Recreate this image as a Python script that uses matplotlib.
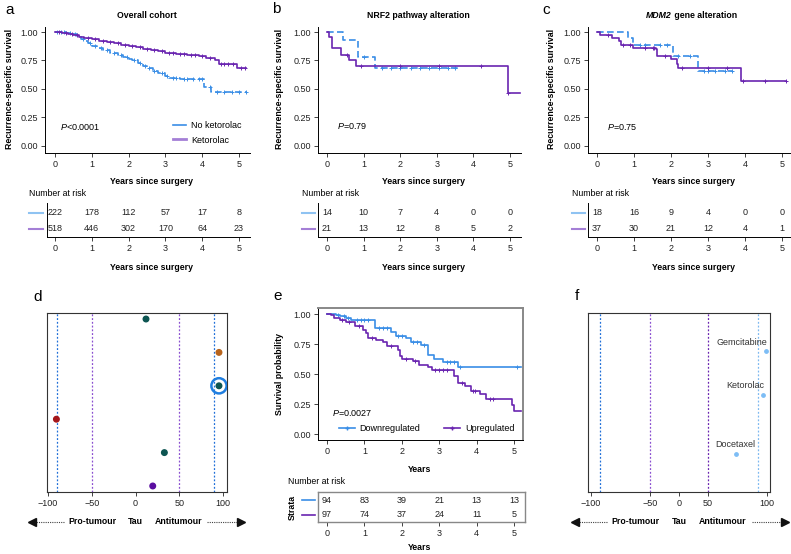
import numpy as np
import matplotlib.pyplot as plt
from matplotlib.lines import Line2D

plt.rcParams['font.family'] = ['Liberation Sans', 'DejaVu Sans']
plt.rcParams['mathtext.fontset'] = 'custom'
plt.rcParams['mathtext.it'] = 'Liberation Sans:italic'
plt.rcParams['mathtext.rm'] = 'Liberation Sans'
plt.rcParams['font.size'] = 6.3

W, H = 791, 554
FS = 6.3
BLUE = '#3a8ee6'
PURPLE = '#6a25b0'
BLUE_L = '#8fc3f2'
PURPLE_L = '#a47fd6'

# ---- a: overall cohort
a_no_t = [0, 0.3, 0.45, 0.6, 0.7, 0.8, 0.9, 1.0, 1.15, 1.3, 1.5, 1.7, 1.85, 2.0, 2.1, 2.25,
          2.4, 2.5, 2.65, 2.8, 3.0, 3.1, 3.4, 4.05, 4.25]
a_no_s = [1.0, 0.99, 0.98, 0.965, 0.94, 0.92, 0.9, 0.875, 0.86, 0.845, 0.82, 0.8, 0.78, 0.765,
          0.75, 0.73, 0.70, 0.68, 0.66, 0.64, 0.61, 0.60, 0.59, 0.52, 0.475]
a_no_cens = [0.05, 0.15, 0.25, 0.4, 0.55, 0.75, 0.95, 1.1, 1.25, 1.4, 1.6, 1.8, 1.95, 2.15,
             2.3, 2.45, 2.55, 2.7, 2.9, 3.05, 3.2, 3.3, 3.5, 3.6, 3.75, 3.9, 4.0, 4.2, 4.4,
             4.6, 4.8, 5.0, 5.2]
a_no_end = 5.22
a_ke_t = [0, 0.2, 0.35, 0.5, 0.65, 0.8, 1.0, 1.2, 1.4, 1.6, 1.8, 2.0, 2.2, 2.4, 2.6, 2.8, 3.0,
          3.3, 3.6, 3.9, 4.1, 4.35, 4.45, 4.95]
a_ke_s = [1.0, 0.99, 0.98, 0.97, 0.955, 0.945, 0.935, 0.925, 0.91, 0.9, 0.89, 0.875, 0.865,
          0.85, 0.84, 0.83, 0.815, 0.805, 0.80, 0.79, 0.77, 0.75, 0.715, 0.685]
a_ke_cens = [0.1, 0.3, 0.45, 0.6, 0.9, 1.1, 1.3, 1.5, 1.7, 1.9, 2.1, 2.3, 2.5, 2.7, 2.9, 3.1,
             3.2, 3.4, 3.5, 3.7, 3.8, 4.0, 4.2, 4.5, 4.6, 4.7, 4.85, 5.05, 5.15]
a_ke_end = 5.2
a_risk_no = [222, 178, 112, 57, 17, 8]
a_risk_ke = [518, 446, 302, 170, 64, 23]

# ---- b: NRF2 pathway alteration
b_ke_t = [0, 0.06, 0.14, 0.37, 0.6, 0.8, 4.95]
b_ke_s = [1.0, 0.952, 0.857, 0.80, 0.75, 0.70, 0.467]
b_ke_cens = [0.55, 0.92, 2.0, 3.05, 4.2, 4.95]
b_ke_end = 5.28
b_no_t = [0, 0.45, 0.85, 1.3]
b_no_s = [1.0, 0.929, 0.779, 0.688]
b_no_cens = [1.0, 1.5, 1.75, 2.0, 2.3, 2.55, 2.8, 3.05, 3.3, 3.5]
b_no_end = 3.65
b_risk_no = [14, 10, 7, 4, 0, 0]
b_risk_ke = [21, 13, 12, 8, 5, 2]

# ---- c: MDM2 gene alteration
c_ke_t = [0, 0.08, 0.4, 0.6, 0.65, 0.98, 1.6, 1.63, 2.0, 2.15, 2.2, 3.88]
c_ke_s = [1.0, 0.973, 0.946, 0.918, 0.889, 0.862, 0.85, 0.79, 0.76, 0.72, 0.68, 0.57]
c_ke_cens = [0.3, 0.7, 0.9, 1.3, 1.5, 1.55, 1.85, 2.3, 3.0, 3.5, 3.95, 4.55, 5.1]
c_ke_end = 5.1
c_no_t = [0, 0.85, 0.98, 2.05, 2.72]
c_no_s = [1.0, 0.944, 0.889, 0.79, 0.658]
c_no_cens = [1.15, 1.3, 1.7, 1.9, 2.2, 2.5, 2.9, 3.0, 3.2, 3.45, 3.65]
c_no_end = 3.65
c_risk_no = [18, 16, 9, 4, 0, 0]
c_risk_ke = [37, 30, 21, 12, 4, 1]

# ---- d: tau scores
d_tau = [12, 95.4, 95.4, -90.4, 33, 19.7]
d_colors = ['#0d5552', '#b8641c', '#0d5552', '#a4161a', '#0d5552', '#5a0ea0']
d_highlight = 2

# ---- e: up vs down
e_dn_t = [0, 0.25, 0.35, 0.5, 0.65, 1.29, 1.7, 1.85, 2.1, 2.25, 2.5, 2.7, 2.85, 3.1, 3.5]
e_dn_s = [1.0, 0.99, 0.98, 0.965, 0.953, 0.883, 0.85, 0.82, 0.80, 0.77, 0.74, 0.657, 0.627,
          0.596, 0.56]
e_dn_cens = [0.3, 0.45, 0.55, 0.8, 0.9, 1.0, 1.1, 1.4, 1.5, 1.6, 1.9, 2.0, 2.3, 2.4, 2.6,
             3.2, 3.3, 3.4, 3.55, 5.07]
e_dn_end = 5.2
e_up_t = [0, 0.1, 0.2, 0.35, 0.5, 0.75, 0.95, 1.05, 1.1, 1.3, 1.5, 1.6, 1.9, 1.95, 2.0, 2.3,
          2.45, 2.7, 2.8, 3.4, 3.5, 3.7, 3.85, 4.1, 4.25, 4.95, 5.0]
e_up_s = [1.0, 0.99, 0.97, 0.95, 0.93, 0.90, 0.87, 0.84, 0.80, 0.78, 0.77, 0.73, 0.70, 0.65,
          0.627, 0.61, 0.577, 0.56, 0.535, 0.485, 0.426, 0.396, 0.362, 0.33, 0.29, 0.242, 0.192]
e_up_cens = [0.4, 0.6, 0.85, 1.2, 1.7, 2.1, 2.35, 2.9, 3.0, 3.1, 3.2, 3.6, 3.9, 3.95, 4.35, 4.45]
e_up_end = 5.2
e_risk_dn = [94, 83, 39, 21, 13, 13]
e_risk_up = [97, 74, 37, 24, 11, 5]

# ---- f: drugs
f_drugs = ['Gemcitabine', 'Ketorolac', 'Docetaxel']
f_tau = [98.9, 96.6, 73.9]
f_y = [0.21, 0.46, 0.79]
f_label_off = [(-17, 6), (-13, 7), (-1, 7)]

years = [0, 1, 2, 3, 4, 5]

fig = plt.figure(figsize=(W / 100, H / 100), dpi=100)


def px_axes(l, t, r, b):
    return fig.add_axes([l / W, 1 - b / H, (r - l) / W, (b - t) / H])


def ftext(x, y, s, **kw):
    kw.setdefault('ha', 'center')
    kw.setdefault('va', 'center')
    kw.setdefault('fontsize', FS)
    fig.text(x / W, 1 - y / H, s, **kw)


def fline(x0, x1, y, **kw):
    fig.add_artist(Line2D([x0 / W, x1 / W], [1 - y / H] * 2, **kw))


def style_ticks(ax):
    ax.tick_params(length=3, width=0.6, labelsize=6.5, pad=2, colors='#222')


def km_axes(left, x0, x5, right, top, y1, y0, bottom):
    ax = px_axes(left, top, right, bottom)
    ppy = (x5 - x0) / 5
    ax.set_xlim((left - x0) / ppy, (right - x0) / ppy)
    ppu = y0 - y1
    ax.set_ylim((y0 - bottom) / ppu, (y0 - top) / ppu)
    ax.set_xticks(years)
    ax.set_yticks([0, 0.25, 0.5, 0.75, 1.0])
    ax.set_yticklabels(['0.00', '0.25', '0.50', '0.75', '1.00'])
    for sp in ['top', 'right']:
        ax.spines[sp].set_visible(False)
    for sp in ['left', 'bottom']:
        ax.spines[sp].set_linewidth(0.7)
    style_ticks(ax)
    return ax


def km_curve(ax, t, s, t_end, cens, color, ls='-'):
    tt = list(t) + [t_end]
    ss = list(s) + [s[-1]]
    ax.step(tt, ss, where='post', color=color, lw=1.2, ls=ls)
    idx = np.searchsorted(t, cens, side='right') - 1
    ax.plot(cens, np.array(s)[idx], ls='none', marker='+', ms=3.5, mew=0.7, color=color)


def risk_table(left, x0, x5, right, top, bottom, rows, boxed=False):
    ax = px_axes(left, top, right, bottom)
    ppy = (x5 - x0) / 5
    ax.set_xlim((left - x0) / ppy, (right - x0) / ppy)
    ax.set_ylim(0, 1)
    ax.set_xticks(years)
    ax.set_yticks([])
    for yy, counts in zip([0.72, 0.25], rows):
        for x, n in zip(years, counts):
            ax.text(x, yy, str(n), ha='center', va='center', fontsize=6.5, color='#222')
    if boxed:
        for sp in ax.spines.values():
            sp.set_color('#888')
            sp.set_linewidth(1.0)
    else:
        ax.spines['top'].set_visible(False)
        ax.spines['right'].set_visible(False)
        for sp in ['left', 'bottom']:
            ax.spines[sp].set_linewidth(0.7)
    style_ticks(ax)
    return ax


dash = (0, (4, 2))
p_it = r'$\it{P}$'

# ================= panel a
ax = km_axes(45, 55, 239, 250, 27, 32, 146, 153)
km_curve(ax, a_no_t, a_no_s, a_no_end, a_no_cens, BLUE, dash)
km_curve(ax, a_ke_t, a_ke_s, a_ke_end, a_ke_cens, PURPLE)
ax.legend([Line2D([], [], color=BLUE, lw=1.2), Line2D([], [], color=PURPLE_L, lw=2)],
          ['No ketorolac', 'Ketorolac'], loc='center left', bbox_to_anchor=(0.6, 0.16),
          frameon=False, handlelength=1.5, labelspacing=0.6, borderpad=0, handletextpad=0.6,
          fontsize=6.5)
ftext(5, 10, 'a', fontsize=11, ha='left')
ftext(147, 15, 'Overall cohort', fontweight='bold')
ftext(10, 89, 'Recurrence-specific survival', rotation=90, fontweight='bold')
ftext(60, 127, p_it + '<0.0001', ha='left', fontsize=6.5)
ftext(152, 182, 'Years since surgery', fontweight='bold')
ftext(29, 193, 'Number at risk', ha='left')
risk_table(47, 55, 239, 250, 203, 237, [a_risk_no, a_risk_ke])
ftext(152, 267, 'Years since surgery', fontweight='bold')
fline(29, 43, 213, color=BLUE_L, lw=1.5)
fline(29, 43, 229, color=PURPLE_L, lw=1.5)

# ================= panel b
ax = km_axes(318, 327, 510, 521, 27, 32, 146, 153)
km_curve(ax, b_no_t, b_no_s, b_no_end, b_no_cens, BLUE, dash)
km_curve(ax, b_ke_t, b_ke_s, b_ke_end, b_ke_cens, PURPLE)
ftext(272, 9, 'b', fontsize=11, ha='left')
ftext(418, 15, 'NRF2 pathway alteration', fontweight='bold')
ftext(280, 89, 'Recurrence-specific survival', rotation=90, fontweight='bold')
ftext(337, 126, p_it + '=0.79', ha='left', fontsize=6.5)
ftext(423, 182, 'Years since surgery', fontweight='bold')
ftext(302, 193, 'Number at risk', ha='left')
risk_table(318, 327, 510, 521, 203, 237, [b_risk_no, b_risk_ke])
ftext(423, 267, 'Years since surgery', fontweight='bold')
fline(302, 315, 213, color=BLUE_L, lw=1.5)
fline(302, 315, 229, color=PURPLE_L, lw=1.5)

# ================= panel c
ax = km_axes(588, 597, 782, 791, 27, 32, 146, 153)
km_curve(ax, c_no_t, c_no_s, c_no_end, c_no_cens, BLUE, dash)
km_curve(ax, c_ke_t, c_ke_s, c_ke_end, c_ke_cens, PURPLE)
ftext(542, 10, 'c', fontsize=11, ha='left')
ftext(672, 15, 'MDM2', fontweight='bold', fontstyle='italic', ha='right')
ftext(672, 15, ' gene alteration', fontweight='bold', ha='left')
ftext(552, 89, 'Recurrence-specific survival', rotation=90, fontweight='bold')
ftext(607, 127, p_it + '=0.75', ha='left', fontsize=6.5)
ftext(693, 182, 'Years since surgery', fontweight='bold')
ftext(572, 193, 'Number at risk', ha='left')
risk_table(588, 597, 782, 791, 203, 237, [c_risk_no, c_risk_ke])
ftext(693, 267, 'Years since surgery', fontweight='bold')
fline(572, 585, 213, color=BLUE_L, lw=1.5)
fline(572, 585, 229, color=PURPLE_L, lw=1.5)


def tau_arrows(xl0, xl1, x_pro, x_tau, x_anti, xr0, xr1, y):
    fline(xl0 + 5, xl1, y, color='#444', lw=0.8, ls=(0, (1, 1)))
    fline(xr0, xr1 - 5, y, color='#444', lw=0.8, ls=(0, (1, 1)))
    fig.add_artist(Line2D([(xl0 + 3) / W], [1 - y / H], marker='<', ms=5.5, color='#111', ls='none'))
    fig.add_artist(Line2D([(xr1 - 3) / W], [1 - y / H], marker='>', ms=5.5, color='#111', ls='none'))
    ftext(x_pro, y, 'Pro-tumour', fontweight='bold')
    ftext(x_tau, y, 'Tau', fontweight='bold')
    ftext(x_anti, y, 'Antitumour', fontweight='bold')


def frame_axes(ax):
    for sp in ax.spines.values():
        sp.set_color('#333')
        sp.set_linewidth(0.8)
    ax.set_yticks([])
    style_ticks(ax)


# ================= panel d
ax = px_axes(47, 313, 227, 492)
ax.set_xlim((47 - 48) / 0.875 - 100, (227 - 48) / 0.875 - 100)
ypos = np.arange(1, len(d_tau) + 1)
ax.set_ylim(len(d_tau) + 0.18, 0.82)
for xv, c in [(-90, '#1f6fd8'), (-50, '#8a4fd0'), (50, '#8a4fd0'), (90, '#1f6fd8')]:
    ax.axvline(xv, color=c, lw=0.9, ls=(0, (1.5, 1.5)))
ax.scatter(d_tau, ypos, s=16, c=d_colors, zorder=3)
ax.scatter([d_tau[d_highlight]], [ypos[d_highlight]], s=120, facecolors='none',
           edgecolors='#1f7ee0', linewidths=1.8, zorder=4)
ax.set_xticks([-100, -50, 0, 50, 100])
frame_axes(ax)
ftext(33, 297, 'd', fontsize=11, ha='left')
tau_arrows(29, 64, 92, 135, 179, 207, 244, 522)

# ================= panel e
ax = km_axes(318, 327, 514, 523, 308, 314, 434, 440)
km_curve(ax, e_dn_t, e_dn_s, e_dn_end, e_dn_cens, BLUE)
km_curve(ax, e_up_t, e_up_s, e_up_end, e_up_cens, PURPLE)
for sp in ['top', 'right']:
    ax.spines[sp].set_visible(True)
    ax.spines[sp].set_color('#888')
    ax.spines[sp].set_linewidth(1.4)
ax.legend([Line2D([], [], color=BLUE, lw=1.2, marker='+', ms=3.5),
           Line2D([], [], color=PURPLE, lw=1.2, marker='+', ms=3.5)],
          ['Downregulated', 'Upregulated'], loc='center left', bbox_to_anchor=(0.08, 0.085),
          ncol=2, frameon=False, handlelength=1.8, columnspacing=2.6, borderpad=0,
          handletextpad=0.5, fontsize=6.5)
ftext(273, 296, 'e', fontsize=11, ha='left')
ftext(280, 374, 'Survival probability', rotation=90, fontweight='bold')
ftext(332, 413, p_it + '=0.0027', ha='left', fontsize=6.5)
ftext(420, 470, 'Years', fontweight='bold')
ftext(288, 482, 'Number at risk', ha='left')
risk_table(318, 327, 514, 525, 492, 522, [e_risk_dn, e_risk_up], boxed=True)
ftext(420, 548, 'Years', fontweight='bold')
ftext(292, 507, 'Strata', rotation=90, fontweight='bold')
fline(302, 315, 500, color=BLUE, lw=1.2)
fline(302, 315, 515, color=PURPLE, lw=1.2)


# ================= panel f
def f_fwd(x):
    return np.interp(x, [-200, -100, -50, 50, 100, 200], [-234, -100, -33, 33, 100, 234])


def f_inv(x):
    return np.interp(x, [-234, -100, -33, 33, 100, 234], [-200, -100, -50, 50, 100, 200])


ax = px_axes(588, 313, 770, 492)
ax.set_xscale('function', functions=(f_fwd, f_inv))
ax.set_xlim(-102.5, 102.5)
ax.set_ylim(1, 0)
for xv, c in [(-92, '#1f6fd8'), (-50, '#8a4fd0'), (50, '#6a25b0'), (92, '#7db8f0')]:
    ax.axvline(xv, color=c, lw=0.9, ls=(0, (1.5, 1.5)))
ax.scatter(f_tau, f_y, s=6, color='#7dbdf5', zorder=3)
for name, xv, yv, off in zip(f_drugs, f_tau, f_y, f_label_off):
    ax.annotate(name, (xv, yv), xytext=off, textcoords='offset points', ha='center',
                va='center', fontsize=6.5, color='#333')
ax.set_xticks([-100, -50, 0, 50, 100])
ax.set_xticklabels(['\u2212100', '\u221250', '0', '50', '100'])
frame_axes(ax)
ftext(575, 296, 'f', fontsize=11, ha='left')
tau_arrows(572, 607, 635, 679, 723, 752, 788, 522)

fig.savefig('out.png', dpi=100)
